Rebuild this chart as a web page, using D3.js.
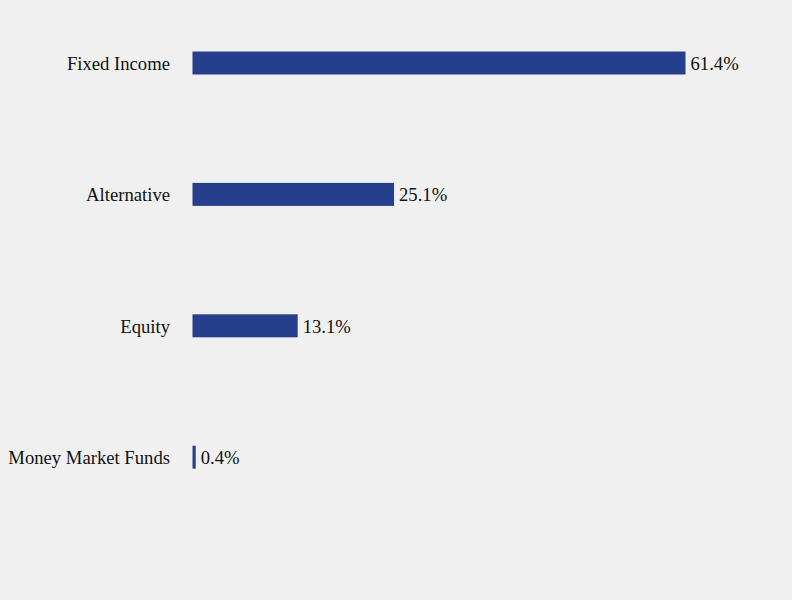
<!DOCTYPE html>
<html>
<head>
<meta charset="utf-8">
<script src="https://cdn.jsdelivr.net/npm/d3@7"></script>
<style>
  body { margin: 0; background: #f0f0f0; }
  svg { display: block; }
</style>
</head>
<body>
<div class="container"></div>
<script>
// data
const categories = ["Fixed Income", "Alternative", "Equity", "Money Market Funds"];
const values = [61.4, 25.1, 13.1, 0.4];

const w = 792;
const h = 600;
const left = 192.5;

const xScale = d3.scaleLinear()
  .domain([0, 61.4])
  .range([left, 685.5]);

const yScale = d3.scaleBand()
  .domain(categories)
  .range([0, 520.2])
  .paddingInner(0.825)
  .paddingOuter(0.392);

const svg = d3.select(".container")
  .append("svg")
  .attr("width", w)
  .attr("height", h)
  .style("background", "#f0f0f0");

const rows = svg.selectAll("g.row")
  .data(categories.map((c, i) => ({ cat: c, val: values[i] })))
  .enter()
  .append("g")
  .attr("class", "row");

rows.append("rect")
  .attr("x", xScale(0))
  .attr("y", d => yScale(d.cat))
  .attr("width", d => xScale(d.val) - xScale(0))
  .attr("height", yScale.bandwidth())
  .attr("fill", "#253f8c");

// category labels
rows.append("text")
  .attr("x", 170)
  .attr("y", d => yScale(d.cat) + yScale.bandwidth() / 2)
  .attr("dy", "0.38em")
  .style("font-family", "'Liberation Serif', 'Times New Roman', serif")
  .style("font-size", "18.67px")
  .style("text-anchor", "end")
  .attr("fill", "#111")
  .text(d => d.cat);

// value labels
rows.append("text")
  .attr("x", d => xScale(d.val) + 5)
  .attr("y", d => yScale(d.cat) + yScale.bandwidth() / 2)
  .attr("dy", "0.38em")
  .style("font-family", "'Liberation Serif', 'Times New Roman', serif")
  .style("font-size", "18.67px")
  .style("text-anchor", "start")
  .attr("fill", "#111")
  .text(d => d.val.toFixed(1) + "%");
</script>
</body>
</html>
